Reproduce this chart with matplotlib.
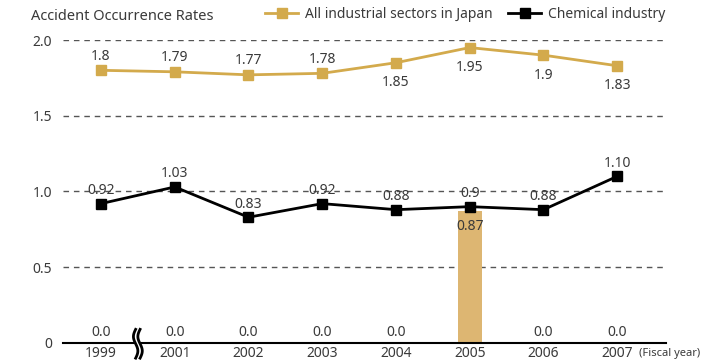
import numpy as np
import matplotlib.pyplot as plt

years = ["1999", "2001", "2002", "2003", "2004", "2005", "2006", "2007"]
all_sectors = [1.8, 1.79, 1.77, 1.78, 1.85, 1.95, 1.9, 1.83]
chemical = [0.92, 1.03, 0.83, 0.92, 0.88, 0.9, 0.88, 1.10]
company = [0.0, 0.0, 0.0, 0.0, 0.0, 0.87, 0.0, 0.0]
chem_labels = ["0.92", "1.03", "0.83", "0.92", "0.88", "0.9", "0.88", "1.10"]
all_labels = ["1.8", "1.79", "1.77", "1.78", "1.85", "1.95", "1.9", "1.83"]

GOLD = "#D3AA4C"
BAR = "#DDB672"
TXT = "#3a3a3a"

plt.rcParams["font.family"] = ["Noto Sans", "DejaVu Sans"]

fig = plt.figure(figsize=(7.16, 3.62), dpi=100)
ax = fig.add_axes([0.088, 0.0525, 0.842, 0.837])
x = np.arange(len(years))

ax.bar(x, company, width=0.32, color=BAR, zorder=2)
ax.plot(x, all_sectors, color=GOLD, lw=2, marker="s", ms=7, zorder=3,
        label="All industrial sectors in Japan")
ax.plot(x, chemical, color="black", lw=2, marker="s", ms=7, zorder=3,
        label="Chemical industry")

# value labels
for i, (v, s) in enumerate(zip(all_sectors, all_labels)):
    dy = 14 if i < 4 else -20
    ax.annotate(s, (i, v), xytext=(0, dy), textcoords="offset pixels",
                ha="center", va="center", fontsize=10, color=TXT)
for i, (v, s) in enumerate(zip(chemical, chem_labels)):
    ax.annotate(s, (i, v), xytext=(0, 13), textcoords="offset pixels",
                ha="center", va="center", fontsize=10, color=TXT)
for i, v in enumerate(company):
    if v > 0:
        ax.annotate(f"{v:.2f}", (i, v), xytext=(0, -15), textcoords="offset pixels",
                    ha="center", va="center", fontsize=10, color=TXT)
    else:
        ax.annotate(f"{v:.1f}", (i, v), xytext=(0, 10), textcoords="offset pixels",
                    ha="center", va="center", fontsize=10, color=TXT)

ax.set_xlim(-0.515, 7.66)
ax.set_ylim(0, 2.0)
ax.set_yticks([0, 0.5, 1.0, 1.5, 2.0])
ax.set_yticklabels(["0", "0.5", "1.0", "1.5", "2.0"])
ax.set_xticks(x)
ax.set_xticklabels(years)
ax.tick_params(axis="both", length=0, labelsize=10, colors=TXT)
ax.tick_params(axis="x", pad=2)
ax.tick_params(axis="y", pad=8)
for side in ["top", "right", "left"]:
    ax.spines[side].set_visible(False)
ax.spines["bottom"].set_linewidth(1.5)
ax.yaxis.grid(True, linestyle=(0, (4, 3.5)), color="#555555", lw=1)
ax.set_axisbelow(True)

# axis break between 1999 and 2001
t = np.linspace(0, 1, 40)
for dx in (-0.03, 0.03):
    bx = 0.5 + dx + 0.03 * np.sin(t * 2 * np.pi)
    by = -0.1 + 0.19 * t
    ax.plot(bx, by, color="black", lw=2, clip_on=False, zorder=5)
ax.fill_betweenx(-0.1 + 0.19 * t, 0.47 + 0.03 * np.sin(t * 2 * np.pi),
                 0.53 + 0.03 * np.sin(t * 2 * np.pi), color="white",
                 clip_on=False, zorder=4)

fig.text(0.043, 0.955, "Accident Occurrence Rates", fontsize=10.5, color=TXT,
         ha="left", va="center")
ax.text(7.3, -0.03, "(Fiscal year)", transform=ax.transData, fontsize=8,
        color=TXT, ha="left", va="top", fontstretch="condensed")

ax.legend(loc="center left", bbox_to_anchor=(0.335, 1.083), ncol=2, frameon=False,
          fontsize=10, handlelength=2.4, columnspacing=1.1, handletextpad=0.5,
          borderpad=0, borderaxespad=0, labelcolor=TXT)

fig.savefig("out.png", dpi=100)
